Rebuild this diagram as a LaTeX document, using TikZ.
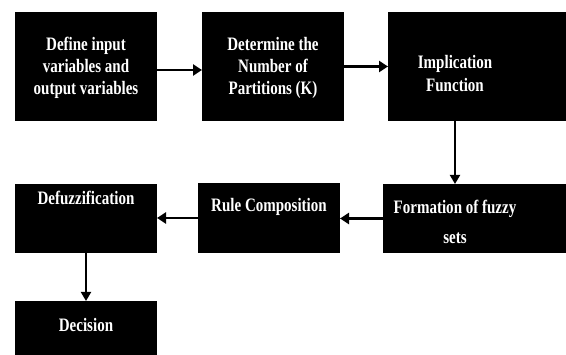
\documentclass[tikz,border=0pt]{standalone}
\usepackage{fontspec}
\setmainfont{Liberation Serif}[FakeStretch=0.79]
\usetikzlibrary{arrows.meta}
\begin{document}
\begin{tikzpicture}[x=1pt,y=1pt,
  box/.style={fill=black,draw=none,inner sep=0pt,outer sep=0pt},
  txt/.style={text=white,font=\bfseries\fontsize{19}{22}\selectfont,align=center,inner sep=0pt},
  arr/.style={line width=2.4pt,-{Triangle[length=9pt,width=11pt]}},
  varr/.style={line width=1.8pt,-{Triangle[length=9pt,width=10pt]}}]
\useasboundingbox (0,0) rectangle (566,-355);
\begin{scope}
\clip (0,0) rectangle (566,-355);
% boxes
\node[box,minimum width=142,minimum height=109] (b1) at (86,-66.5) {};
\node[box,minimum width=142,minimum height=109] (b2) at (273,-66.5) {};
\node[box,minimum width=182,minimum height=109] (b3) at (479,-66.5) {};
\node[box,minimum width=187,minimum height=69] (b4) at (476.5,-218.5) {};
\node[box,minimum width=142,minimum height=70] (b5) at (269,-218) {};
\node[box,minimum width=142,minimum height=69] (b6) at (86,-218.5) {};
\node[box,minimum width=142,minimum height=69] (b7) at (86,-335.5) {};
\end{scope}
% texts
\node[txt] (t1) at (86,-68) {Define input\\variables and\\output variables};
\node[txt] (t2) at (273,-68) {Determine the\\Number of\\Partitions (K)};
\node[txt,font=\bfseries\fontsize{19}{23}\selectfont] (t3) at (455,-73.5) {Implication\\Function};
\node[txt,font=\bfseries\fontsize{19}{30}\selectfont] (t4) at (455,-222) {Formation of fuzzy\\sets};
\node[txt] (t5) at (269,-207) {Rule Composition};
\node[txt] (t6) at (86,-198) {Defuzzification};
\node[txt] (t7) at (86,-325) {Decision};
% connectors
\draw[arr] ([yshift=-3.5]b1.east) -- ([yshift=-3.5]b2.west);
\draw[arr] (b2.east) -- (b2.east -| b3.west);
\draw[varr] (b3.south -| t3) -- (b4.north -| t3);
\draw[arr] (b4.west) -- (b4.west -| b5.east);
\draw[arr] (b5.west) -- (b5.west -| b6.east);
\draw[varr] (b6.south) -- (b7.north);
\end{tikzpicture}
\end{document}
